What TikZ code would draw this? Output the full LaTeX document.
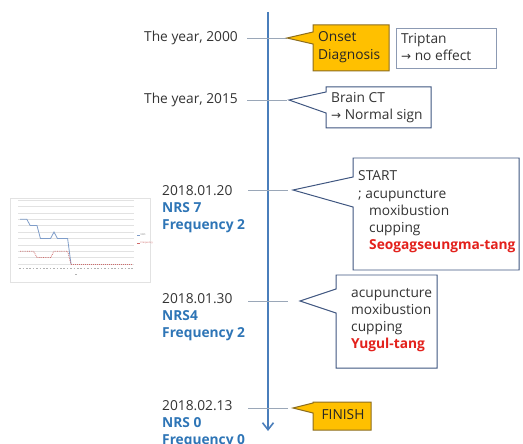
\documentclass[tikz,border=0pt]{standalone}
\usepackage{fontspec}
\setmainfont{Open Sans}
\newfontfamily\symfont{DejaVu Sans}
\usetikzlibrary{arrows.meta}
\definecolor{axisblue}{HTML}{4A7EBB}
\definecolor{boxline}{HTML}{3F5680}
\definecolor{calloutyellow}{HTML}{FFC000}
\definecolor{yellowline}{HTML}{8C6D1F}
\definecolor{ticklinegray}{HTML}{9AA7B8}
\definecolor{nrsblue}{HTML}{2E75B6}
\definecolor{herbred}{HTML}{E3211C}
\definecolor{chartblue}{HTML}{7F9DC9}
\definecolor{chartred}{HTML}{D06A6A}
\definecolor{gridgray}{HTML}{E2E2E2}
\newcommand{\rarr}{{\symfont\fontsize{12}{14}\selectfont →}}
\tikzset{
  lbl/.style={inner sep=0pt, text height=10pt, text depth=3pt, font=\fontsize{13.8}{16}\selectfont, text=black!80},
  nrs/.style={lbl, font=\fontsize{13.8}{16}\selectfont\bfseries, text=nrsblue},
  herb/.style={lbl, font=\fontsize{13.8}{16}\selectfont\bfseries, text=herbred},
  tickline/.style={draw=ticklinegray, line width=0.8pt},
  callout/.style={draw=boxline, line width=1pt, fill=white},
  ycallout/.style={draw=yellowline, line width=1pt, fill=calloutyellow},
}
\begin{document}
\begin{tikzpicture}[x=1bp,y=-1bp]
\useasboundingbox (0,0) rectangle (523,444);
% ---------- small chart ----------
\draw[draw=gridgray, fill=white, line width=0.6pt] (10,198) rectangle (150,282);
\foreach \i in {0,...,10} {
  \draw[gridgray, line width=0.4pt] (18,{264-6.4*\i}) -- (134,{264-6.4*\i});
}
\foreach \i in {0,...,33} {
  \draw[black!30, line width=0.6pt] ({20+3.4*\i-0.8},268) -- ({20+3.4*\i+0.8},268);
}
\draw[black!30, line width=0.6pt] (75,274) -- (77,274);
\draw[chartblue, line width=0.8pt]
  plot coordinates {(20,219.2) (23.4,219.2) (26.8,219.2) (30.2,225.6) (33.6,225.6) (37,225.6)
   (40.4,238.4) (43.8,238.4) (47.2,238.4) (50.6,238.4) (54,232) (57.4,238.4) (60.8,238.4)
   (64.2,238.4) (67.6,238.4) (71,264)};
\draw[chartred, line width=0.8pt, densely dotted]
  plot coordinates {(20,251.2) (23.4,251.2) (26.8,251.2) (30.2,251.2) (33.6,251.2) (37,257.6)
   (40.4,257.6) (43.8,257.6) (47.2,257.6) (50.6,257.6) (54,251.2) (57.4,251.2) (60.8,251.2)
   (64.2,251.2) (67.6,251.2) (71,264)};
\draw[chartred, line width=1pt, densely dotted] (71,264) -- (132,264);
\draw[chartblue, line width=0.5pt] (137,235) -- (140,235);
\draw[chartred, line width=0.5pt] (137,243) -- (140,243);
\node[inner sep=0pt, anchor=west, font=\fontsize{2.5}{3}\selectfont, text=black!50] (legA) at (140.5,235) {NRS};
\node[inner sep=0pt, anchor=west, font=\fontsize{2.5}{3}\selectfont, text=chartred] (legB) at (140.5,243) {Frequency};
% ---------- timeline axis ----------
\coordinate (axtop) at (268,12);
\coordinate (axbot) at (268,431);
\draw[axisblue, line width=1.6pt, -{Straight Barb[length=7bp,width=11bp,line width=1.6pt]}] (axtop) -- (axbot);
% ---------- ticks ----------
\coordinate (t1a) at (247,38);  \coordinate (t1b) at (287,38);
\coordinate (t2a) at (247,100); \coordinate (t2b) at (287,100);
\coordinate (t3a) at (248,190); \coordinate (t3b) at (288,190);
\coordinate (t4a) at (248,301); \coordinate (t4b) at (288,301);
\coordinate (t5a) at (248,408); \coordinate (t5b) at (288,408);
\foreach \n in {1,...,5} { \draw[tickline] (t\n a) -- (t\n b); }
% ---------- left labels ----------
\node[lbl, anchor=east] (y2000) at (238,38) {The year, 2000};
\node[lbl, anchor=east] (y2015) at (238,100) {The year, 2015};
\node[lbl, anchor=west] (d1) at (162,192) {2018.01.20};
\node[nrs, anchor=west] (n1) at (162,209) {NRS 7};
\node[nrs, anchor=west] (f1) at (162,226) {Frequency 2};
\node[lbl, anchor=west] (d2) at (162,300) {2018.01.30};
\node[nrs, anchor=west] (n2) at (162,317) {NRS4};
\node[nrs, anchor=west] (f2) at (162,334) {Frequency 2};
\node[lbl, anchor=west] (d3) at (162,407) {2018.02.13};
\node[nrs, anchor=west] (n3) at (162,424) {NRS 0};
\node[nrs, anchor=west] (f3) at (162,441) {Frequency 0};
% ---------- callouts ----------
% Onset
\draw[ycallout] (313,25) -- (389,25) -- (389,71) -- (313,71) -- (313,44) -- (287,38) -- (313,32) -- cycle;
\node[lbl, anchor=west, text=black!85] (on1) at (318,38) {Onset};
\node[lbl, anchor=west, text=black!85] (on2) at (318,56) {Diagnosis};
% Triptan
\draw[draw=boxline!60, line width=0.9pt, fill=white] (396,28) rectangle (496,68);
\node[lbl, anchor=west] (tr1) at (401,40) {Triptan};
\node[lbl, anchor=west] (tr2) at (401,57) {\rarr\ no effect};
% Brain CT
\draw[callout] (326,87) -- (431,87) -- (431,128) -- (326,128) -- (326,113) -- (289,100) -- (326,92) -- cycle;
\node[lbl, anchor=west] (ct1) at (331,99) {Brain CT};
\node[lbl, anchor=west] (ct2) at (331,116) {\rarr\ Normal sign};
% START
\draw[callout] (353,158) -- (519,158) -- (519,270) -- (353,270) -- (353,207) -- (293,190) -- (353,177) -- cycle;
\node[lbl, anchor=west] (s1) at (358,177) {START};
\node[lbl, anchor=west] (s2) at (358,195) {; acupuncture};
\node[lbl, anchor=west] (s3) at (369,212) {moxibustion};
\node[lbl, anchor=west] (s4) at (369,229) {cupping};
\node[herb, anchor=west] (s5) at (369,246) {Seogagseungma-tang};
% second treatment
\draw[callout] (336,275) -- (437,275) -- (437,368) -- (336,368) -- (336,313) -- (300,301) -- (336,289) -- cycle;
\node[lbl, anchor=west] (a1) at (351,294) {acupuncture};
\node[lbl, anchor=west] (a2) at (351,311) {moxibustion};
\node[lbl, anchor=west] (a3) at (351,328) {cupping};
\node[herb, anchor=west] (a4) at (351,345) {Yugul-tang};
% FINISH
\draw[ycallout] (313,402) -- (371,402) -- (371,430) -- (313,430) -- (313,413) -- (293,408) -- (313,403) -- cycle;
\node[lbl, anchor=center, text=black!85] (fin) at (343,416) {FINISH};
\end{tikzpicture}
\end{document}
